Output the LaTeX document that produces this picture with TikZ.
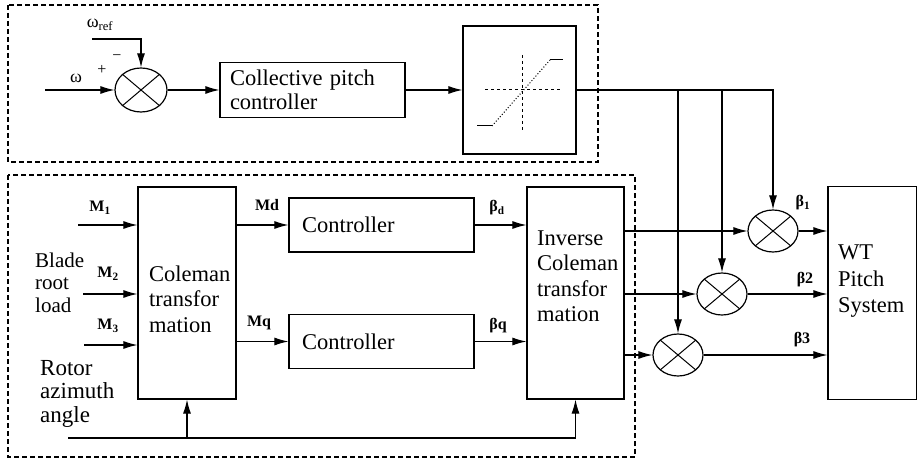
\documentclass[tikz,border=0pt]{standalone}
\usepackage{fontspec}
\setmainfont{Liberation Serif}
\usepackage{tikz}
\usetikzlibrary{shapes.geometric,arrows.meta,positioning,calc}

\begin{document}
\begin{tikzpicture}[x=1pt, y=-1pt,
  block/.style={draw, rectangle, line width=1.2pt, inner sep=0pt},
  summer/.style={draw, ellipse, line width=1.2pt, minimum width=50pt, minimum height=42pt, inner sep=0pt,
    path picture={\draw[line width=1pt] (path picture bounding box.north west) -- (path picture bounding box.south east)
      (path picture bounding box.north east) -- (path picture bounding box.south west);}},
  sig/.style={-{Latex[length=14pt,width=8pt]}, line width=1.1pt},
  region/.style={dash pattern=on 5pt off 3pt, line width=1.1pt},
  txt/.style={font=\fontsize{22.5}{25.5}\selectfont, align=left, inner sep=0pt},
  lbl/.style={font=\fontsize{16}{18}\selectfont\bfseries, inner sep=0pt}
]
\useasboundingbox (0,0) rectangle (917,462);

% Dashed regions
\draw[region] (8,5) rectangle (598,162);
\draw[region] (8,175) rectangle (635,457);

% Collective loop
\node[summer, minimum width=52pt, minimum height=44pt] (sum0) at (141,90) {};
\node[block, minimum width=185pt, minimum height=55pt, text width=165pt, inner xsep=10pt, align=left,
  font=\fontsize{22.5}{24}\selectfont] (ctrl0) at (312.5,90) {Collective pitch\\controller};
\node[block, minimum width=113pt, minimum height=128pt] (sat) at (519.5,90) {};
\begin{scope}[shift={(sat.center)}, line width=1pt]
  \draw[dashed] (-34.5,0) -- (40.5,0);
  \draw[dashed] (2.5,-35) -- (2.5,42);
  \draw (-42.5,36) -- (-27.5,36);
  \draw[dotted] (-27.5,36) -- (30.5,-30);
  \draw (30.5,-30) -- (43.5,-30);
\end{scope}

% Coleman blocks
\node[block, minimum width=98pt, minimum height=212pt] (cole) at (187,293) {};
\node[txt, anchor=west] (coletxt) at (149,299) {Coleman\\transfor\\mation};
\node[block, minimum width=185pt, minimum height=54pt, text width=159pt, inner xsep=13pt, align=left,
  font=\fontsize{22.5}{25}\selectfont] (ctrld) at (381.5,225) {Controller};
\node[block, minimum width=185pt, minimum height=54pt, text width=159pt, inner xsep=13pt, align=left,
  font=\fontsize{22.5}{25}\selectfont] (ctrlq) at (381.5,341.5) {Controller};
\node[block, minimum width=97pt, minimum height=212pt] (icole) at (575.5,293) {};
\node[txt, anchor=west] (icoletxt) at (537,276) {Inverse\\Coleman\\transfor\\mation};

% Pitch summers and plant
\node[summer] (sum1) at (773,231) {};
\node[summer] (sum2) at (722,294) {};
\node[summer] (sum3) at (678,355) {};
\node[block, minimum width=89pt, minimum height=213pt] (wt) at (872.5,293) {};
\node[txt, anchor=west, font=\fontsize{22.5}{26.5}\selectfont] (wttxt) at (838,281.5) {WT\\Pitch\\System};

% Side texts
\node[txt, anchor=west, font=\fontsize{21}{22.5}\selectfont] (bladetxt) at (35,282.5) {Blade\\root\\load};
\node[txt, anchor=west, font=\fontsize{23}{23.5}\selectfont] (rotortxt) at (40,393.5) {Rotor\\azimuth\\angle};

% Free ends
\coordinate (win) at (45,90);
\coordinate (wrefin) at (92,39);
\coordinate (tap) at (773,90);
\coordinate (m1in) at (78,225);
\coordinate (m2in) at (83,294);
\coordinate (m3in) at (84,345);
\coordinate (rotin) at (68,438);

% Signals, top
\draw[sig] (win) -- (sum0.west);
\draw[sig] (wrefin) -| (sum0.north);
\draw[sig] (sum0.east) -- (ctrl0.west);
\draw[sig] (ctrl0.east) -- (sat.west);
\draw[sig] (sat.east) -- (tap) -- (sum1.north);
\draw[sig] (sum2.north |- tap) -- (sum2.north);
\draw[sig] (sum3.north |- tap) -- (sum3.north);

% Signals, bottom
\draw[sig] (m1in) -- (cole.west |- m1in);
\draw[sig] (m2in) -- (cole.west |- m2in);
\draw[sig] (m3in) -- (cole.west |- m3in);
\draw[sig] (cole.east |- ctrld.west) -- (ctrld.west);
\draw[sig] (cole.east |- ctrlq.west) -- (ctrlq.west);
\draw[sig] (ctrld.east) -- (icole.west |- ctrld.east);
\draw[sig] (ctrlq.east) -- (icole.west |- ctrlq.east);
\draw[sig] (rotin) -| (icole.south);
\draw[sig] (cole.south |- rotin) -- (cole.south);
\draw[sig] (icole.east |- sum1.west) -- (sum1.west);
\draw[sig] (icole.east |- sum2.west) -- (sum2.west);
\draw[sig] (icole.east |- sum3.west) -- (sum3.west);
\draw[sig] (sum1.east) -- (wt.west |- sum1.east);
\draw[sig] (sum2.east) -- (wt.west |- sum2.east);
\draw[sig] (sum3.east) -- (wt.west |- sum3.east);

% Labels
\node[lbl, font=\fontsize{18}{20}\selectfont] (wlbl) at (76,78) {ω};
\node[lbl, font=\fontsize{16}{18}\selectfont] (plus) at (102,70) {+};
\node[lbl, font=\fontsize{16}{18}\selectfont] (minus) at (117,58) {−};
\node[lbl, font=\fontsize{18}{20}\selectfont] (wreflbl) at (100,25) {ω\textsubscript{ref}};
\node[lbl] (m1lbl) at (100,208) {M\textsubscript{1}};
\node[lbl] (m2lbl) at (108,274) {M\textsubscript{2}};
\node[lbl] (m3lbl) at (108,326) {M\textsubscript{3}};
\node[lbl] (mdlbl) at (267,205) {Md};
\node[lbl] (mqlbl) at (259,323) {Mq};
\node[lbl] (bdlbl) at (497,208) {β\textsubscript{d}};
\node[lbl] (bqlbl) at (498,326) {βq};
\node[lbl] (b1lbl) at (803,203) {β\textsubscript{1}};
\node[lbl] (b2lbl) at (805,280) {β2};
\node[lbl] (b3lbl) at (802,340) {β3};

\end{tikzpicture}
\end{document}
